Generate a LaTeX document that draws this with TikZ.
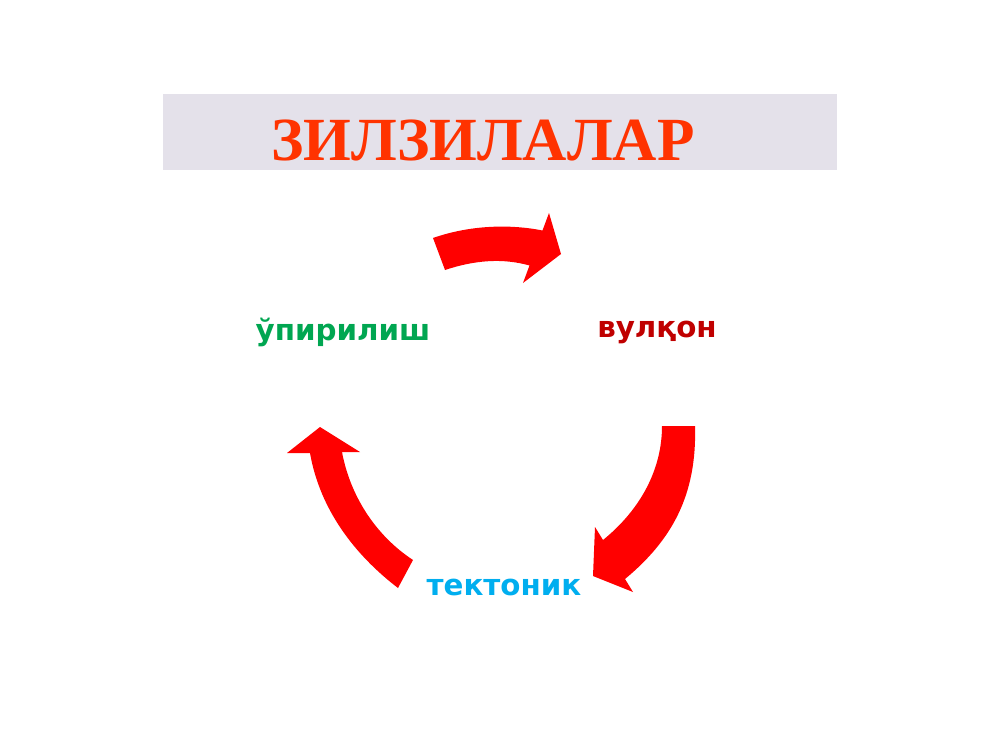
\documentclass[tikz,border=0pt]{standalone}
\usepackage{fontspec}
\newfontfamily\titlefont{Liberation Serif}
\newfontfamily\labelfont{DejaVu Sans}
\definecolor{barbg}{HTML}{E4E1EA}
\definecolor{titlered}{HTML}{FF3300}
\definecolor{arrowred}{HTML}{FF0000}
\definecolor{lgreen}{HTML}{00A651}
\definecolor{ldred}{HTML}{C00000}
\definecolor{lblue}{HTML}{00AEEF}
\begin{document}
\begin{tikzpicture}[x=0.75pt,y=-0.75pt,
  lbl/.style={font=\labelfont\bfseries\fontsize{22}{26}\selectfont, inner sep=0pt},
  blockarrow/.style={fill=arrowred, draw=none}]
\useasboundingbox (0,0) rectangle (1000,750);
\fill[white] (0,0) rectangle (1000,750);
% title bar
\node[fill=barbg, minimum width=674*0.75pt, minimum height=76*0.75pt, inner sep=0pt, anchor=north west] (bar) at (163,94) {};
\node[text=titlered, font=\titlefont\bfseries\fontsize{46}{50}\selectfont, inner sep=0pt] (title) at (483,140) {ЗИЛЗИЛАЛАР};
% labels
\node[lbl, text=lgreen] (upir) at (343,332) {ўпирилиш};
\node[lbl, text=ldred] (vulq) at (657,332) {вулқон};
\node[lbl, text=lblue] (tekt) at (504,587) {тектоник};
% top arrow
\fill[blockarrow] (433,238) .. controls (470,225) and (510,224) .. (542.5,230.5)
  -- (549,213) -- (561,254) -- (523,283) -- (529.5,265.5)
  .. controls (503,258) and (475,260) .. (445,270) -- cycle;
% right arrow
\fill[blockarrow] (662,426) -- (695,426)
  .. controls (697,495) and (672,540) .. (625,579)
  -- (633,592) -- (593,576) -- (595,527) -- (603,540)
  .. controls (640,510) and (662,470) .. (662,426) -- cycle;
% left arrow
\fill[blockarrow] (413,560) .. controls (375,535) and (350,495) .. (342,452)
  -- (360,452) -- (320,427) -- (287,453) -- (310,453)
  .. controls (320,510) and (355,555) .. (398,588) -- cycle;
\end{tikzpicture}
\end{document}
